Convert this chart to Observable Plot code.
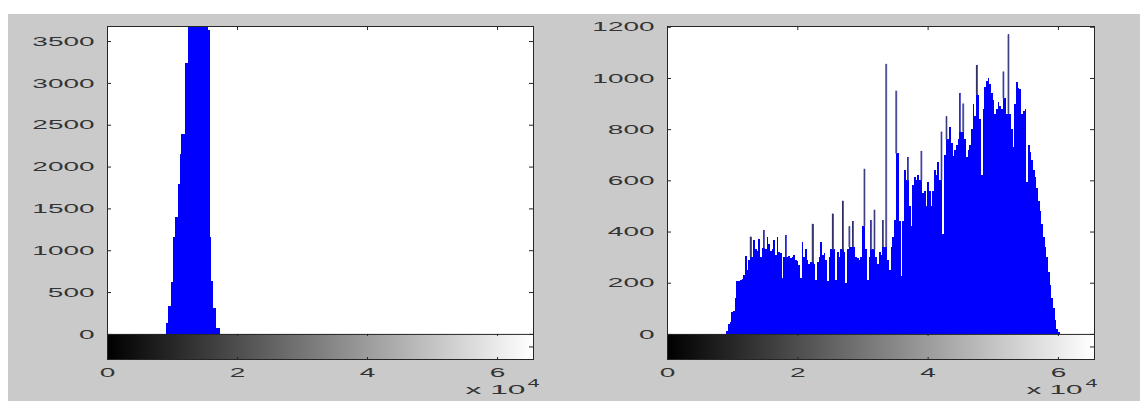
<!DOCTYPE html>
<html><head><meta charset="utf-8">
<script src="https://cdn.jsdelivr.net/npm/d3@7"></script>
<script src="https://cdn.jsdelivr.net/npm/@observablehq/plot@0.6"></script>
<style>
html,body{margin:0;padding:0;background:#fff;}
#page{position:relative;width:1140px;height:401px;overflow:hidden;background:#fff;}
#bg{position:absolute;left:8px;top:14px;right:0;bottom:0;background:#cacaca;}
#left{position:absolute;left:0;top:0;}
#right{position:absolute;left:560px;top:0;}
</style></head><body>
<div id="page"><div id="bg"></div><div id="left"></div><div id="right"></div></div>
<script>
// ---- shared ----
const BIN_WIDTH = 257;          // 16-bit range split into 256 bins
const X_MAX = 65535;
const xTickValues = [0, 20000, 40000, 60000];
const xExponentLabel = "x 10";
const xExponent = "4";

// ---- left histogram (bins 36..67) ----
const leftStartBin = 36;
const leftCounts = [135, 335, 335, 615, 1155, 1395, 1395, 1795, 2155, 2395, 2395, 3235, 3235,
  3900, 4100, 4300, 4400, 4500, 4500, 4400, 4300, 4100, 4000, 3850, 3750,
  3630, 1155, 635, 315, 315, 75, 75];
const leftYTicks = [0, 500, 1000, 1500, 2000, 2500, 3000, 3500];
const leftYDomain = [-300, 3680];

// ---- right histogram (bins 36..234) ----
const rightStartBin = 36;
const rightCounts = [
  12, 40, 45, 85, 90, 140, 205, 205, 210, 215,        // 36-45
  230, 305, 250, 290, 380, 300, 365, 330, 325, 370,   // 46-55
  300, 335, 405, 330, 380, 350, 325, 330, 365, 310,   // 56-65
  380, 320, 315, 220, 300, 385, 300, 305, 295, 300,   // 66-75
  310, 290, 285, 270, 220, 360, 300, 330, 290, 275,   // 76-85
  280, 430, 275, 210, 280, 300, 360, 310, 315, 290,   // 86-95
  205, 300, 330, 470, 330, 210, 320, 300, 330, 520,   // 96-105
  320, 200, 330, 420, 340, 440, 340, 300, 295, 290,   // 106-115
  300, 420, 645, 330, 210, 300, 445, 330, 485, 300,   // 116-125
  275, 320, 310, 445, 340, 1055, 290, 250, 340, 380,  // 126-135
  445, 950, 705, 440, 225, 440, 640, 600, 690, 500,   // 136-145
  420, 580, 615, 600, 620, 600, 715, 550, 560, 500,   // 146-155
  595, 560, 500, 560, 640, 620, 670, 600, 790, 390,   // 156-165
  700, 850, 760, 810, 745, 695, 720, 740, 760, 940,   // 166-175
  790, 900, 760, 690, 720, 740, 800, 900, 850, 1050,  // 176-185
  935, 840, 620, 880, 965, 990, 1000, 975, 940, 915,  // 186-195
  860, 880, 905, 890, 880, 1025, 920, 860, 1170, 860, // 196-205
  800, 730, 900, 985, 960, 955, 860, 870, 880, 595,   // 206-215
  740, 710, 680, 640, 615, 570, 520, 480, 430, 380,   // 216-225
  340, 300, 240, 190, 140, 100, 55, 20, 8             // 226-234
];
const rightYTicks = [0, 200, 400, 600, 800, 1000, 1200];
const rightYDomain = [-98, 1203];

const INK = "#262626";

function panel({counts, startBin, yDomain, yTicks, width, marginLeft, marginRight, expDx, supDx}) {
  const bars = counts.map((v, i) => {
    const k = startBin + i;
    return {k, x1: k * BIN_WIDTH - BIN_WIDTH / 2, x2: k * BIN_WIDTH + BIN_WIDTH / 2, xc: k * BIN_WIDTH, v};
  });
  const spikes = bars.map((d, i) => {
    const a = i > 0 ? bars[i - 1].v : 0, b = i < bars.length - 1 ? bars[i + 1].v : 0;
    return {...d, base: Math.max(a, b)};
  }).filter(d => d.v - d.base > 60);
  const step = X_MAX / 256;
  const gradient = d3.range(256).map(i => ({x1: i * step, x2: (i + 1.6) * step, c: `rgb(${i},${i},${i})`}));
  const [ylo, yhi] = yDomain;
  const innerW = width - marginLeft - marginRight;
  const tx = X_MAX * 4 / innerW;          // 4px tick length in x units
  const ty = (yhi - ylo) * 4 / 333;       // 4px tick length in y units
  return Plot.plot({
    width, height: 401, marginLeft, marginRight, marginTop: 26, marginBottom: 42,
    x: {domain: [0, X_MAX], label: null},
    y: {domain: yDomain, label: null},
    color: {type: "identity"},
    style: {fontFamily: "'Liberation Sans', Arial, sans-serif", fontSize: "13px", color: "#333", background: "transparent"},
    marks: [
      Plot.frame({fill: "white", stroke: null}),
      Plot.rect(gradient, {x1: "x1", x2: "x2", y1: ylo, y2: 0, fill: "c", clip: true, shapeRendering: "crispEdges"}),
      Plot.rect(bars, {x1: "x1", x2: "x2", y1: 0, y2: "v", fill: "#0000ff", clip: true, shapeRendering: "crispEdges"}),
      Plot.rect(spikes, {x1: "x1", x2: "x2", y1: "base", y2: "v", fill: "#7a7ae6", clip: true}),
      Plot.ruleX(spikes, {x: "x1", y1: "base", y2: "v", stroke: "#2e2e5e", strokeWidth: 1, clip: true}),
      Plot.ruleY([0], {stroke: INK}),
      Plot.ruleY(yTicks, {x1: 0, x2: tx, stroke: INK}),
      Plot.ruleY(yTicks, {x1: X_MAX - tx, x2: X_MAX, stroke: INK}),
      Plot.ruleY([ylo / 2], {x1: X_MAX - tx, x2: X_MAX, stroke: INK}),
      Plot.ruleX(xTickValues, {y1: yhi, y2: yhi - ty, stroke: INK}),
      Plot.ruleX(xTickValues, {y1: 0, y2: -ty * 0.5, stroke: INK}),
      Plot.ruleX(xTickValues, {y1: ylo, y2: ylo + ty * 0.5, stroke: INK}),
      Plot.axisY(yTicks, {tickSize: 0, tickPadding: 13, tickFormat: d3.format("d"), fontSize: 13}),
      Plot.axisX(xTickValues, {tickSize: 0, tickPadding: 8, tickFormat: d => String(d / 10000), fontSize: 13}),
      Plot.frame({stroke: INK}),
      Plot.text([xExponentLabel], {text: d => d, frameAnchor: "bottom-right", dx: expDx, dy: 34, textAnchor: "end", fontSize: 13, fill: "#333"}),
      Plot.text([xExponent], {text: d => d, frameAnchor: "bottom-right", dx: supDx, dy: 27, textAnchor: "start", fontSize: 10, fill: "#333"})
    ]
  });
}

function stretch(svg, k, expWidth) {
  svg.querySelectorAll("text").forEach(t => {
    const L = t.getComputedTextLength();
    if (L > 0) {
      const w = t.textContent === xExponentLabel ? expWidth : L * k;
      t.setAttribute("textLength", w.toFixed(1));
      t.setAttribute("lengthAdjust", "spacingAndGlyphs");
    }
  });
}

const left = panel({counts: leftCounts, startBin: leftStartBin, yDomain: leftYDomain, yTicks: leftYTicks,
  width: 560, marginLeft: 107, marginRight: 27, expDx: -8, supDx: -6});
document.getElementById("left").append(left);
stretch(left, 2.15, 60);

const right = panel({counts: rightCounts, startBin: rightStartBin, yDomain: rightYDomain, yTicks: rightYTicks,
  width: 580, marginLeft: 107, marginRight: 46, expDx: -12, supDx: -9});
document.getElementById("right").append(right);
stretch(right, 2.15, 56);
</script>
</body></html>
